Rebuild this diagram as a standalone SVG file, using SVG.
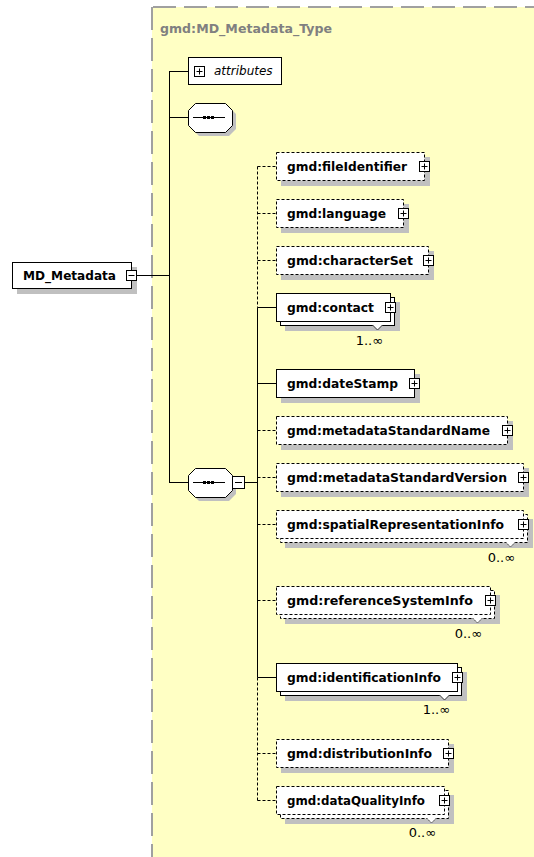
<svg xmlns="http://www.w3.org/2000/svg" xmlns:xlink="http://www.w3.org/1999/xlink" width="534" height="857" viewBox="0 0 534 857">
<style>
.b{fill:#fff;stroke:#000;stroke-width:1}
.bd{fill:#fff;stroke:#000;stroke-width:1;stroke-dasharray:3 2}
.sh{fill:#c0c0c0}
.t{font-family:"DejaVu Sans",Verdana,sans-serif;font-weight:bold;font-size:12px;fill:#000}
.n{font-family:"DejaVu Sans",Verdana,sans-serif;font-size:12px;fill:#000}
.m{font-family:"DejaVu Sans",Verdana,sans-serif;font-size:13px;fill:#000}
.c{stroke:#000;stroke-width:1;fill:none}
.cd{stroke:#000;stroke-width:1;fill:none;stroke-dasharray:3 2}
.v{fill:#fff;stroke:#333;stroke-width:1}
</style>
<defs>
<g id="plus"><rect x="-5" y="-5" width="10" height="10" fill="#fff" stroke="#000"/><path d="M-3 0H3M0 -3V3" stroke="#000"/></g>
<g id="minus"><rect x="-5" y="-5" width="10" height="10" fill="#fff" stroke="#000"/><path d="M-3 0H3" stroke="#000"/></g>
<g id="seq"><polygon class="sh" points="199,107 229,107 236,114 236,129 229,136 199,136 192,129 192,114"/><polygon class="b" points="195.5,103.5 225.5,103.5 232.5,110.5 232.5,125.5 225.5,132.5 195.5,132.5 188.5,125.5 188.5,110.5"/><path d="M193 117.5H225" stroke="#000"/><rect x="203" y="116" width="3" height="3"/><rect x="207" y="116" width="3" height="3"/><rect x="211" y="116" width="3" height="3"/></g>
</defs>

<g id="type-box">
<rect x="152" y="7" width="400" height="860" fill="#ffffc4"/>
<path d="M152 7H534" stroke="#a0a0a0" stroke-width="2" stroke-dasharray="23 8" stroke-dashoffset="-1"/>
<path d="M152 7V857" stroke="#a0a0a0" stroke-width="2" stroke-dasharray="23 8"/>
<text x="160" y="33" class="t" style="fill:#808080;font-size:12.5px" textLength="172" lengthAdjust="spacingAndGlyphs">gmd:MD_Metadata_Type</text>
</g>

<g id="connectors">
<path class="c" d="M137 275.5H169.5M169.5 71V483M169.5 71.5H188.5M169.5 117.5H188.5M169.5 482.5H188.5M244.5 482.5H257.5"/>
<path class="cd" d="M257.5 166.5V307.5"/>
<path class="c" d="M257.5 307.5V677.5"/>
<path class="cd" d="M257.5 677.5V800.5"/>
<path class="cd" d="M257.5 166.5H276M257.5 213.5H276M257.5 260.5H276M257.5 430.5H276M257.5 477.5H276M257.5 524.5H276M257.5 600.5H276M257.5 753.5H276M257.5 800.5H276"/>
<path class="c" d="M257.5 307.5H276M257.5 383.5H276M257.5 677.5H276"/>
</g>

<g id="md-metadata">
<rect class="sh" x="17" y="267" width="120" height="27"/>
<rect class="b" x="12.5" y="262.5" width="119" height="26"/>
<text x="23" y="280" class="t" textLength="93" lengthAdjust="spacingAndGlyphs">MD_Metadata</text>
<use href="#minus" xlink:href="#minus" x="131.5" y="275.5"/>
</g>

<g id="attributes">
<rect class="b" x="188.5" y="57.5" width="93" height="27"/>
<use href="#plus" xlink:href="#plus" x="199.5" y="71.5"/>
<text x="214" y="75" class="n" font-style="italic">attributes</text>
</g>

<g id="sequence-1">
<use href="#seq" xlink:href="#seq"/>
</g>

<g id="sequence-2">
<use href="#seq" xlink:href="#seq" y="365"/>
<rect class="b" x="232.5" y="476.5" width="12" height="12"/>
<path d="M235 482.5H242" stroke="#000"/>
</g>

<g id="fileIdentifier">
<rect class="sh" x="281" y="157" width="149" height="29"/>
<rect class="bd" x="276.5" y="152.5" width="148" height="28"/>
<text x="287" y="171" class="t" textLength="120" lengthAdjust="spacingAndGlyphs">gmd:fileIdentifier</text>
<use href="#plus" xlink:href="#plus" x="424.5" y="166.5"/>
</g>

<g id="language">
<rect class="sh" x="281" y="204" width="128" height="29"/>
<rect class="bd" x="276.5" y="199.5" width="127" height="28"/>
<text x="287" y="218" class="t" textLength="99" lengthAdjust="spacingAndGlyphs">gmd:language</text>
<use href="#plus" xlink:href="#plus" x="403.5" y="213.5"/>
</g>

<g id="characterSet">
<rect class="sh" x="281" y="251" width="153" height="29"/>
<rect class="bd" x="276.5" y="246.5" width="152" height="28"/>
<text x="287" y="265" class="t" textLength="126" lengthAdjust="spacingAndGlyphs">gmd:characterSet</text>
<use href="#plus" xlink:href="#plus" x="428.5" y="260.5"/>
</g>

<g id="contact">
<rect class="sh" x="285" y="302" width="115" height="29"/>
<rect class="b" x="280.5" y="297.5" width="114" height="28"/>
<rect class="b" x="276.5" y="293.5" width="114" height="28"/>
<path class="v" d="M372.5 325L377.5 330L382.5 325"/>
<text x="287" y="312" class="t" textLength="87" lengthAdjust="spacingAndGlyphs">gmd:contact</text>
<use href="#plus" xlink:href="#plus" x="390.5" y="307.5"/>
<text x="383" y="345" class="m" text-anchor="end">1..∞</text>
</g>

<g id="dateStamp">
<rect class="sh" x="281" y="374" width="139" height="29"/>
<rect class="b" x="276.5" y="369.5" width="138" height="28"/>
<text x="287" y="388" class="t" textLength="111" lengthAdjust="spacingAndGlyphs">gmd:dateStamp</text>
<use href="#plus" xlink:href="#plus" x="414.5" y="383.5"/>
</g>

<g id="metadataStandardName">
<rect class="sh" x="281" y="421" width="232" height="29"/>
<rect class="bd" x="276.5" y="416.5" width="231" height="28"/>
<text x="287" y="435" class="t" textLength="203" lengthAdjust="spacingAndGlyphs">gmd:metadataStandardName</text>
<use href="#plus" xlink:href="#plus" x="507.5" y="430.5"/>
</g>

<g id="metadataStandardVersion">
<rect class="sh" x="281" y="468" width="248" height="29"/>
<rect class="bd" x="276.5" y="463.5" width="247" height="28"/>
<text x="287" y="482" class="t" textLength="220" lengthAdjust="spacingAndGlyphs">gmd:metadataStandardVersion</text>
<use href="#plus" xlink:href="#plus" x="523.5" y="477.5"/>
</g>

<g id="spatialRepresentationInfo">
<rect class="sh" x="285" y="519" width="248" height="29"/>
<rect class="bd" x="280.5" y="514.5" width="247" height="28"/>
<rect class="bd" x="276.5" y="510.5" width="247" height="28"/>
<path class="v" d="M505.5 542L510.5 547L515.5 542" stroke-dasharray="2 1"/>
<text x="287" y="529" class="t" textLength="217" lengthAdjust="spacingAndGlyphs">gmd:spatialRepresentationInfo</text>
<use href="#plus" xlink:href="#plus" x="523.5" y="524.5"/>
<text x="515" y="562" class="m" text-anchor="end">0..∞</text>
</g>

<g id="referenceSystemInfo">
<rect class="sh" x="285" y="595" width="215" height="29"/>
<rect class="bd" x="280.5" y="590.5" width="214" height="28"/>
<rect class="bd" x="276.5" y="586.5" width="214" height="28"/>
<path class="v" d="M472.5 618L477.5 623L482.5 618" stroke-dasharray="2 1"/>
<text x="287" y="605" class="t" textLength="186" lengthAdjust="spacingAndGlyphs">gmd:referenceSystemInfo</text>
<use href="#plus" xlink:href="#plus" x="490.5" y="600.5"/>
<text x="482" y="638" class="m" text-anchor="end">0..∞</text>
</g>

<g id="identificationInfo">
<rect class="sh" x="285" y="672" width="182" height="29"/>
<rect class="b" x="280.5" y="667.5" width="181" height="28"/>
<rect class="b" x="276.5" y="663.5" width="181" height="28"/>
<path class="v" d="M439.5 695L444.5 700L449.5 695"/>
<text x="287" y="682" class="t" textLength="154" lengthAdjust="spacingAndGlyphs">gmd:identificationInfo</text>
<use href="#plus" xlink:href="#plus" x="457.5" y="677.5"/>
<text x="450" y="714" class="m" text-anchor="end">1..∞</text>
</g>

<g id="distributionInfo">
<rect class="sh" x="281" y="744" width="173" height="29"/>
<rect class="bd" x="276.5" y="739.5" width="172" height="28"/>
<text x="287" y="758" class="t" textLength="145" lengthAdjust="spacingAndGlyphs">gmd:distributionInfo</text>
<use href="#plus" xlink:href="#plus" x="448.5" y="753.5"/>
</g>

<g id="dataQualityInfo">
<rect class="sh" x="285" y="795" width="169" height="29"/>
<rect class="bd" x="280.5" y="790.5" width="168" height="28"/>
<rect class="bd" x="276.5" y="786.5" width="168" height="28"/>
<path class="v" d="M426.5 818L431.5 823L436.5 818" stroke-dasharray="2 1"/>
<text x="287" y="805" class="t" textLength="138" lengthAdjust="spacingAndGlyphs">gmd:dataQualityInfo</text>
<use href="#plus" xlink:href="#plus" x="444.5" y="800.5"/>
<text x="436" y="837" class="m" text-anchor="end">0..∞</text>
</g>
</svg>
